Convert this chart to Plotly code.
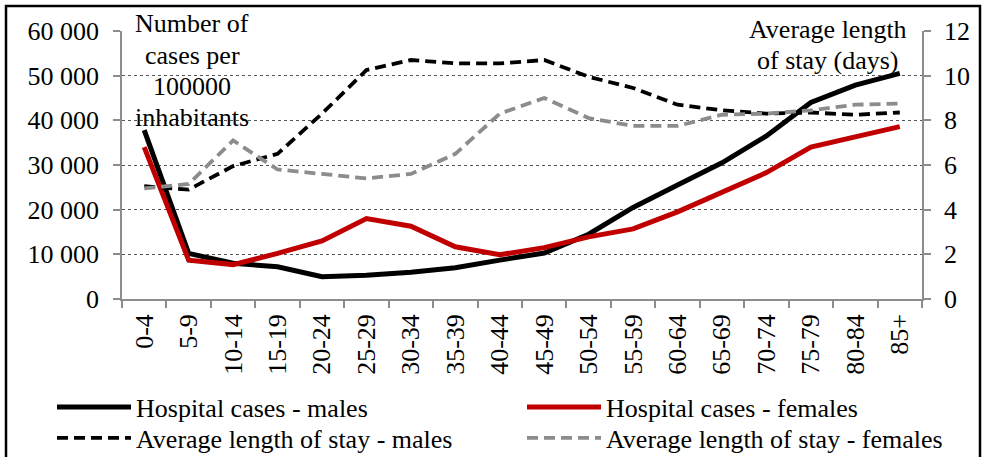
import plotly.graph_objects as go

age_groups = ["0-4", "5-9", "10-14", "15-19", "20-24", "25-29", "30-34", "35-39", "40-44",
              "45-49", "50-54", "55-59", "60-64", "65-69", "70-74", "75-79", "80-84", "85+"]

cases_males = [37800, 10200, 8000, 7200, 5000, 5300, 6000, 7000, 8700,
               10300, 14500, 20500, 25500, 30500, 36500, 44000, 47900, 50500]
cases_females = [34000, 8700, 7700, 10200, 13000, 18000, 16300, 11700, 9900,
                 11500, 13900, 15700, 19500, 23800, 28300, 34000, 36300, 38600]
stay_males = [5.05, 4.9, 5.95, 6.5, 8.3, 10.25, 10.7, 10.55, 10.55,
              10.7, 9.95, 9.45, 8.7, 8.45, 8.3, 8.35, 8.25, 8.35]
stay_females = [4.95, 5.15, 7.1, 5.8, 5.6, 5.4, 5.6, 6.5, 8.3,
                9.0, 8.1, 7.75, 7.75, 8.25, 8.3, 8.45, 8.7, 8.75]

left_tickvals = [0, 10000, 20000, 30000, 40000, 50000, 60000]
left_ticktext = ["0", "10 000", "20 000", "30 000", "40 000", "50 000", "60 000"]
right_tickvals = [0, 2, 4, 6, 8, 10, 12]

left_title_lines = ["Number of", "cases per", "100000", "inhabitants"]
right_title_lines = ["Average length", "of stay (days)"]

FONT = "Liberation Serif, Times New Roman, serif"
FS = 26
AXIS_GREY = "#8c8c8c"

W, H = 984, 457
L, R, T, B = 122, 62, 31, 158
pw, ph = W - L - R, H - T - B

def px2paper_x(px):
    return (px - L) / pw

def px2paper_y(py):
    return (H - B - py) / ph

fig = go.Figure()
fig.add_trace(go.Scatter(x=age_groups, y=cases_males, name="Hospital cases - males",
                         mode="lines", line=dict(color="black", width=5), legend="legend"))
fig.add_trace(go.Scatter(x=age_groups, y=cases_females, name="Hospital cases - females",
                         mode="lines", line=dict(color="#c00000", width=5), legend="legend2"))
fig.add_trace(go.Scatter(x=age_groups, y=stay_males, name="Average length of stay - males",
                         mode="lines", yaxis="y2", legend="legend3",
                         line=dict(color="black", width=3.8, dash="11px,6px")))
fig.add_trace(go.Scatter(x=age_groups, y=stay_females, name="Average length of stay - females",
                         mode="lines", yaxis="y2", legend="legend4",
                         line=dict(color="#8c8c8c", width=3.8, dash="11px,6px")))

def legend_at(xpx, ypx):
    return dict(x=px2paper_x(xpx), y=px2paper_y(ypx), xanchor="left", yanchor="middle",
                itemwidth=74, font=dict(family=FONT, size=FS, color="black"),
                bgcolor="rgba(0,0,0,0)")

annotations = []
for i, t in enumerate(left_title_lines):
    annotations.append(dict(text=t, xref="paper", yref="paper",
                            x=px2paper_x(192), y=px2paper_y(24 + 31 * i),
                            xanchor="center", yanchor="middle", showarrow=False,
                            font=dict(family=FONT, size=FS, color="black")))
for i, t in enumerate(right_title_lines):
    annotations.append(dict(text=t, xref="paper", yref="paper",
                            x=px2paper_x(828), y=px2paper_y(30 + 30 * i),
                            xanchor="center", yanchor="middle", showarrow=False,
                            font=dict(family=FONT, size=FS, color="black")))

fig.update_layout(
    width=W, height=H,
    margin=dict(l=L, r=R, t=T, b=B, autoexpand=False),
    paper_bgcolor="white", plot_bgcolor="white",
    font=dict(family=FONT, size=FS, color="black"),
    showlegend=True,
    legend=legend_at(52, 407),
    legend2=legend_at(522, 407),
    legend3=legend_at(52, 438),
    legend4=legend_at(522, 438),
    xaxis=dict(type="category", range=[-0.5, 17.5], tickson="boundaries",
               ticks="outside", ticklen=7, tickcolor=AXIS_GREY, tickwidth=1.5,
               showline=True, linecolor=AXIS_GREY, linewidth=1.5,
               showgrid=False, tickangle=-90, zeroline=False, ticklabelstandoff=3,
               tickfont=dict(family=FONT, size=FS)),
    yaxis=dict(range=[0, 60000], tickvals=left_tickvals, ticktext=left_ticktext,
               ticks="outside", ticklen=7, tickcolor=AXIS_GREY, tickwidth=1.5,
               showline=True, linecolor=AXIS_GREY, linewidth=1.5,
               showgrid=True, gridcolor="#555555", gridwidth=1.2, griddash="dot",
               zeroline=False, ticklabelstandoff=9, tickfont=dict(family=FONT, size=FS)),
    yaxis2=dict(range=[0, 12], tickvals=right_tickvals, overlaying="y", side="right",
                ticks="outside", ticklen=7, tickcolor=AXIS_GREY, tickwidth=1.5,
                showline=True, linecolor=AXIS_GREY, linewidth=1.5,
                showgrid=False, zeroline=False, ticklabelstandoff=8,
                tickfont=dict(family=FONT, size=FS)),
    annotations=annotations,
    shapes=[
        dict(type="rect", xref="paper", yref="paper",
             x0=px2paper_x(6), x1=px2paper_x(980), y0=px2paper_y(470), y1=px2paper_y(6),
             line=dict(color="black", width=2.5), fillcolor="rgba(0,0,0,0)", layer="above"),
    ],
)

fig.write_html("out.html", config={"displayModeBar": False},
               post_script="document.body.style.margin='0';document.body.style.overflow='hidden';")
